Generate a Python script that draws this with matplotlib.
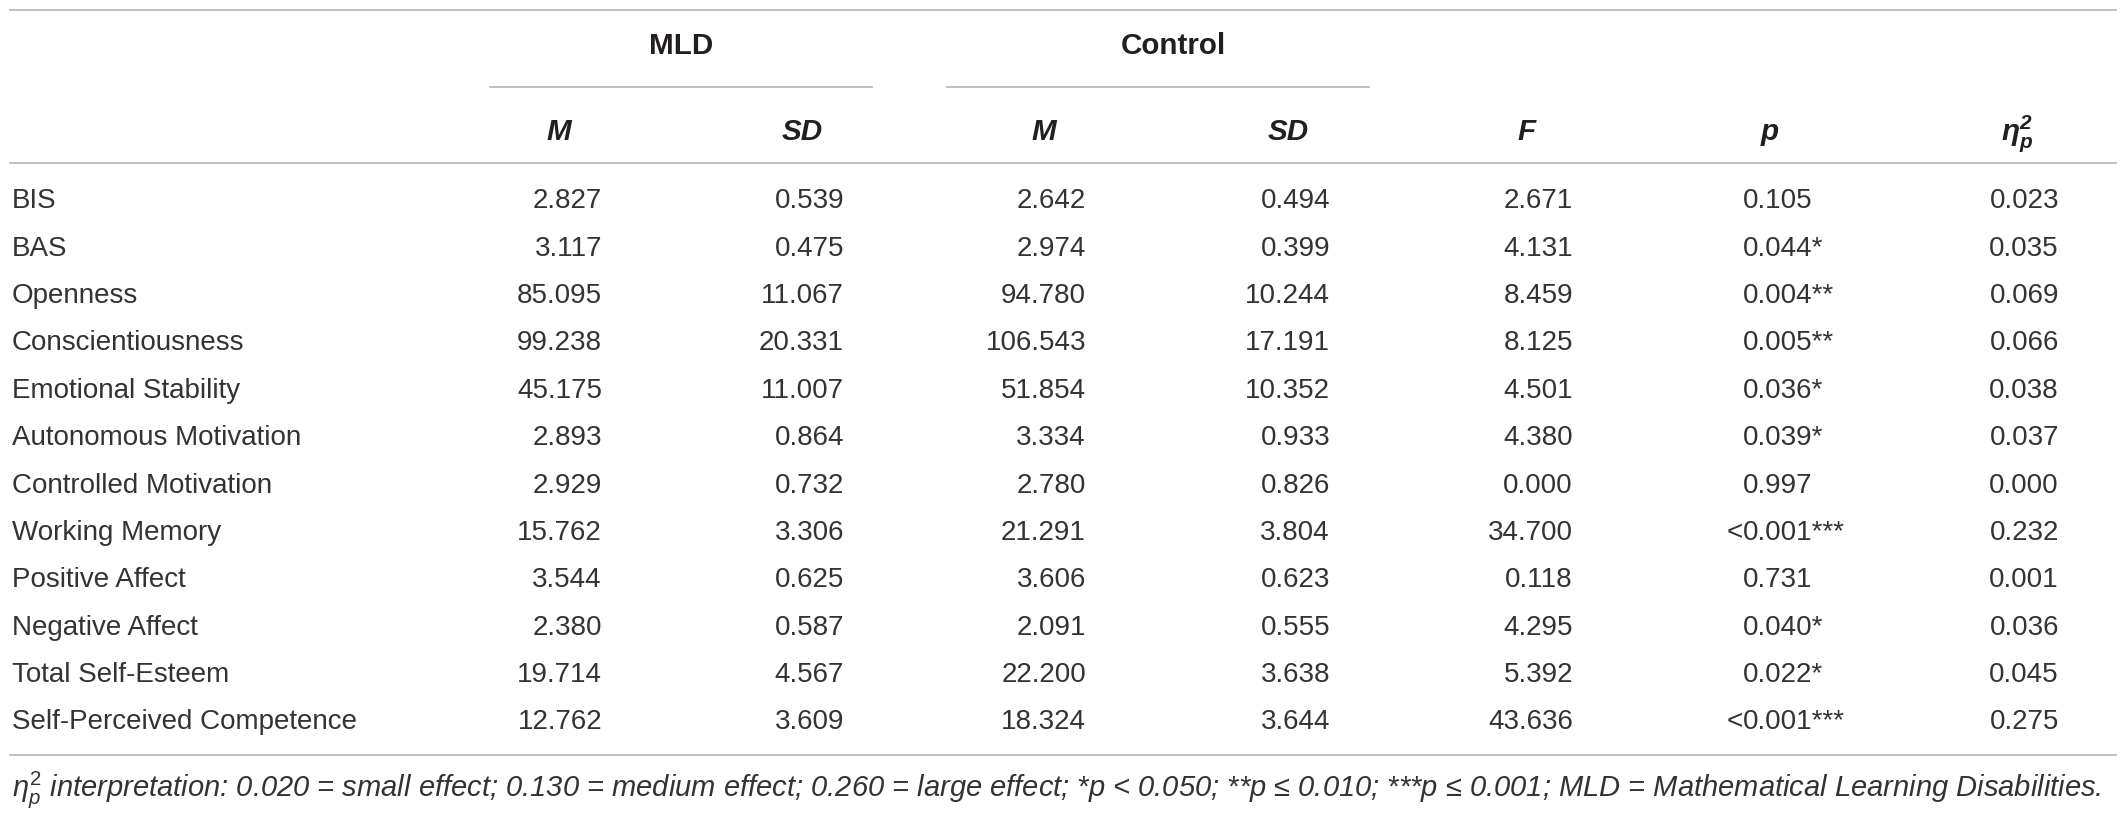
import matplotlib
matplotlib.use("Agg")
import matplotlib.pyplot as plt

# ---------------- data ----------------
variables = ["BIS", "BAS", "Openness", "Conscientiousness", "Emotional Stability",
             "Autonomous Motivation", "Controlled Motivation", "Working Memory",
             "Positive Affect", "Negative Affect", "Total Self-Esteem",
             "Self-Perceived Competence"]
mld_m = [2.827, 3.117, 85.095, 99.238, 45.175, 2.893, 2.929, 15.762, 3.544, 2.380, 19.714, 12.762]
mld_sd = [0.539, 0.475, 11.067, 20.331, 11.007, 0.864, 0.732, 3.306, 0.625, 0.587, 4.567, 3.609]
ctl_m = [2.642, 2.974, 94.780, 106.543, 51.854, 3.334, 2.780, 21.291, 3.606, 2.091, 22.200, 18.324]
ctl_sd = [0.494, 0.399, 10.244, 17.191, 10.352, 0.933, 0.826, 3.804, 0.623, 0.555, 3.638, 3.644]
f_vals = [2.671, 4.131, 8.459, 8.125, 4.501, 4.380, 0.000, 34.700, 0.118, 4.295, 5.392, 43.636]
p_vals = [0.105, 0.044, 0.004, 0.005, 0.036, 0.039, 0.997, 0.001, 0.731, 0.040, 0.022, 0.001]
p_less = [False, False, False, False, False, False, False, True, False, False, False, True]
p_stars = [0, 1, 2, 2, 1, 1, 0, 3, 0, 1, 1, 3]
eta_vals = [0.023, 0.035, 0.069, 0.066, 0.038, 0.037, 0.000, 0.232, 0.001, 0.036, 0.045, 0.275]

group_labels = ["MLD", "Control"]
col_headers = ["M", "SD", "M", "SD", "F", "p"]
footnote = (r"$\eta^2_p$ interpretation: 0.020 = small effect; 0.130 = medium effect; "
            r"0.260 = large effect; *p < 0.050; **p ≤ 0.010; "
            r"***p ≤ 0.001; MLD = Mathematical Learning Disabilities.")

# ---------------- style ----------------
plt.rcParams['font.family'] = ['Liberation Sans', 'DejaVu Sans']
plt.rcParams['mathtext.fontset'] = 'custom'
plt.rcParams['mathtext.rm'] = 'Liberation Sans'
plt.rcParams['mathtext.it'] = 'Liberation Sans:italic'
plt.rcParams['mathtext.bf'] = 'Liberation Sans:bold:italic'

W, H = 2128, 821
fig = plt.figure(figsize=(W / 100, H / 100), dpi=100)
ax = fig.add_axes([0, 0, 1, 1])
ax.set_xlim(0, W)
ax.set_ylim(H, 0)
ax.axis("off")

TXT = "#333333"
HTXT = "#231f20"
LINE = "#b4b4b4"
FS = 20
HFS = 21.3
LW = 1.2

left_x = 12
right_x = 2116

# rule lines
ax.plot([left_x - 2, right_x], [10, 10], color=LINE, lw=LW)
ax.plot([490, 872], [87, 87], color=LINE, lw=LW)
ax.plot([947, 1369], [87, 87], color=LINE, lw=LW)
ax.plot([left_x - 2, right_x], [163, 163], color=LINE, lw=LW)
ax.plot([left_x - 2, right_x], [755, 755], color=LINE, lw=LW)

# group headers
ax.text(681, 54, group_labels[0], fontsize=HFS, fontweight="bold", color=HTXT,
        ha="center", va="baseline")
ax.text(1173, 54, group_labels[1], fontsize=HFS, fontweight="bold", color=HTXT,
        ha="center", va="baseline")

# column headers
hdr_x = [559, 802, 1044, 1288, 1527, 1770]
hdr_base = 140
for x, h in zip(hdr_x, col_headers):
    ax.text(x, hdr_base, h, fontsize=HFS, fontweight="bold", fontstyle="italic",
            color=HTXT, ha="center", va="baseline")
ax.text(2017, hdr_base, r"$\mathbf{\eta^2_p}$", fontsize=HFS, color=HTXT,
        ha="center", va="baseline")

# body
base0 = 208.3
step = 47.37
right_cols = [602, 844, 1086, 1330, 1573]
p_x = 1743
eta_right = 2059

fig.canvas.draw()
renderer = fig.canvas.get_renderer()

for i, name in enumerate(variables):
    y = base0 + step * i
    ax.text(left_x, y, name, fontsize=FS, color=TXT, ha="left", va="baseline")
    for x, v in zip(right_cols, [mld_m[i], mld_sd[i], ctl_m[i], ctl_sd[i], f_vals[i]]):
        ax.text(x, y, f"{v:.3f}", fontsize=FS, color=TXT, ha="right", va="baseline")
    # p value, aligned on digits; "<" hangs to the left
    ax.text(p_x, y, f"{p_vals[i]:.3f}" + "*" * p_stars[i], fontsize=FS, color=TXT,
            ha="left", va="baseline")
    if p_less[i]:
        ax.text(p_x, y, "<", fontsize=FS, color=TXT, ha="right", va="baseline")
    ax.text(eta_right, y, f"{eta_vals[i]:.3f}", fontsize=FS, color=TXT,
            ha="right", va="baseline")

# footnote, scaled to its width in the reference
fn = ax.text(left_x, 796, footnote, fontsize=FS, fontstyle="italic", color=TXT,
             family=['Liberation Sans Narrow', 'Liberation Sans', 'DejaVu Sans'],
             ha="left", va="baseline")
bb = fn.get_window_extent(renderer=renderer)
target = 2098 - left_x
fn.set_fontsize(FS * target / bb.width)

fig.savefig("out.png", dpi=100, facecolor="white")
